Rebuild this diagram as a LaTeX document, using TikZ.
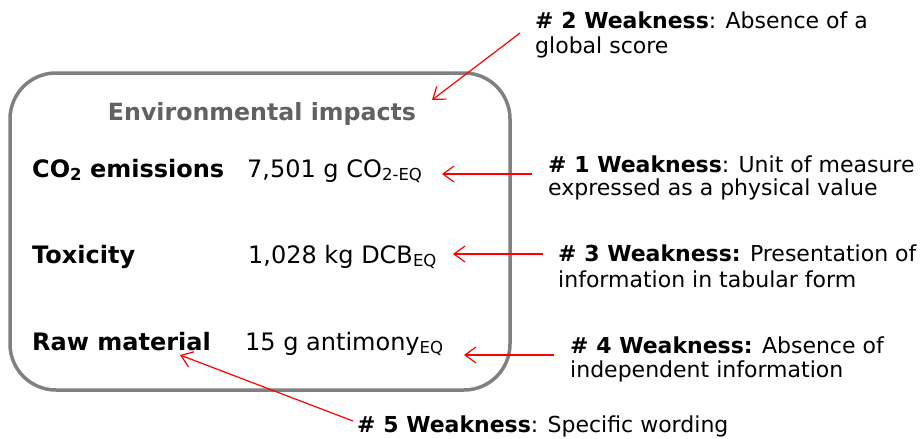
\documentclass[tikz,border=0pt]{standalone}
\usepackage{fontspec}
\setmainfont{DejaVu Sans}
\usetikzlibrary{arrows.meta,calc}
\newcommand{\lowsub}[1]{\raisebox{-0.28ex}{\fontsize{16.5}{16.5}\selectfont #1}}
\tikzset{
  panel/.style={draw=black!50, line width=3.5pt, rounded corners=46pt},
  txt/.style={anchor=base west, inner sep=0pt, font=\fontsize{24}{26}\selectfont},
  ttl/.style={anchor=base, inner sep=0pt, text=black!62, font=\fontsize{23.7}{26}\selectfont\bfseries},
  wk/.style={anchor=base west, inner sep=0pt, font=\fontsize{22}{24}\selectfont},
  arr/.style={draw=red, line width=1.2pt, -{Straight Barb[length=11pt,width=16pt]}}
}
\begin{document}
\begin{tikzpicture}[x=1pt,y=-1pt]
\useasboundingbox (0,0) rectangle (921,439);
\draw[panel] (10,73) rectangle (510,390);
\node[ttl] (t) at (262,120) {Environmental impacts};
\node[txt] (l1) at (32,177) {\textbf{CO\lowsub{2} emissions}};
\node[txt] (v1) at (247,177) {7,501 g CO\lowsub{2-EQ}};
\node[txt] (l2) at (32,263) {\textbf{Toxicity}};
\node[txt] (v2) at (248,263) {1,028 kg DCB\lowsub{EQ}};
\node[txt] (l3) at (32,350) {\textbf{Raw material}};
\node[txt] (v3) at (245,350) {15 g antimony\lowsub{EQ}};
\node[wk] (w2a) at (535,28) {\textbf{\# 2 Weakness}: Absence of a};
\node[wk] (w2b) at (535,53) {global score};
\node[wk] (w1a) at (548,172) {\textbf{\# 1 Weakness}: Unit of measure};
\node[wk] (w1b) at (548,195) {expressed as a physical value};
\node[wk] (w3a) at (558,261) {\textbf{\# 3 Weakness:} Presentation of};
\node[wk] (w3b) at (558,287) {information in tabular form};
\node[wk] (w4a) at (570,353) {\textbf{\# 4 Weakness:} Absence of};
\node[wk] (w4b) at (570,377) {independent information};
\node[wk] (w5) at (357,432) {\textbf{\# 5 Weakness}: Specific wording};
\draw[arr] ($(w2a.base west)+(-15,5)$) -- ($(t.base)+(170,-20)$);
\draw[arr] ($(w1a.base west)+(-16,2)$) -- ($(v1.base west)+(195,-3)$);
\draw[arr] ($(w3a.base west)+(-15,-7)$) -- ($(v2.base west)+(205,-9)$);
\draw[arr] ($(w4a.base west)+(-16,2)$) -- ($(v3.base west)+(219,5)$);
\draw[arr] ($(w5.base west)+(-4,-11)$) -- ($(l3.base west)+(148,5)$);
\end{tikzpicture}
\end{document}
